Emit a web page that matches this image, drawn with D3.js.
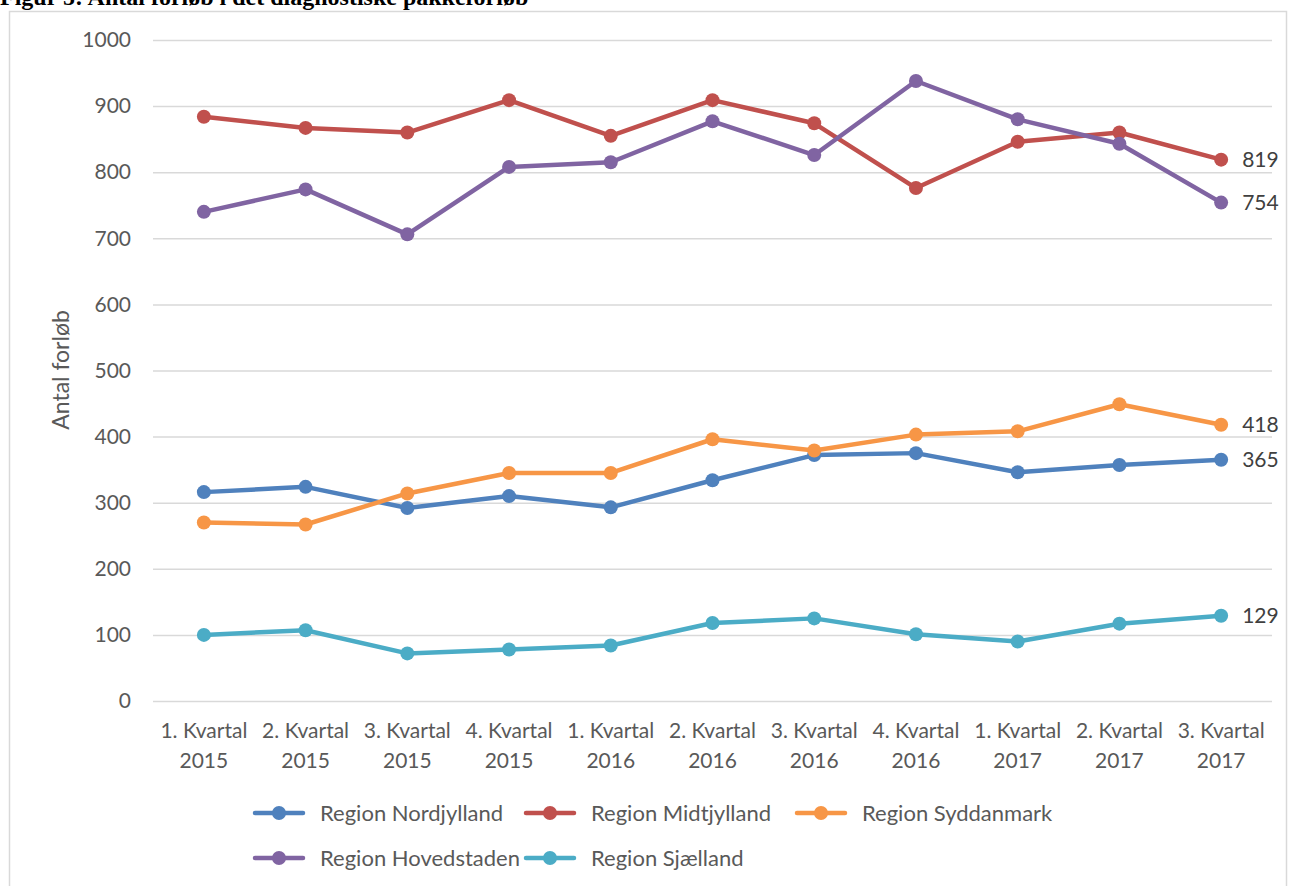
<!DOCTYPE html>
<html>
  <head>
    <meta charset="utf-8">
    <script src="https://d3js.org/d3.v7.min.js"></script>
    <title>Antal forløb i det diagnostiske pakkeforløb</title>
    <style>
      body { margin: 0px; background: #fff; }
      .domain { display: none; }
      .tick line { stroke: #d9d9d9; stroke-width: 1.5; }
      .tick text { fill: #595959; font-size: 21px; font-family: Lato, sans-serif; }
      .axis-label { fill: #595959; font-size: 23px; font-family: Lato, sans-serif; }
      .legend text { fill: #595959; font-size: 22px; font-family: Lato, sans-serif; }
      .end-label { fill: #404040; font-size: 21px; font-family: Lato, sans-serif; }
    </style>
  </head>
  <body>
    <svg width="1289" height="886"></svg>
    <script>
      const quarters = ['1. Kvartal', '2. Kvartal', '3. Kvartal', '4. Kvartal', '1. Kvartal', '2. Kvartal',
                        '3. Kvartal', '4. Kvartal', '1. Kvartal', '2. Kvartal', '3. Kvartal'];
      const years = ['2015', '2015', '2015', '2015', '2016', '2016', '2016', '2016', '2017', '2017', '2017'];
      const yTickValues = [0, 100, 200, 300, 400, 500, 600, 700, 800, 900, 1000];

      const nordjylland = [316, 324, 292, 310, 293, 334, 372, 375, 346, 357, 365];
      const midtjylland = [884, 867, 860, 909, 855, 909, 874, 776, 846, 860, 819];
      const syddanmark  = [270, 267, 314, 345, 345, 396, 379, 403, 408, 449, 418];
      const hovedstaden = [740, 774, 706, 808, 815, 877, 826, 938, 880, 843, 754];
      const sjaelland   = [100, 107, 72, 78, 84, 118, 125, 101, 90, 117, 129];

      const seriesNames = ['Region Nordjylland', 'Region Midtjylland', 'Region Syddanmark',
                           'Region Hovedstaden', 'Region Sjælland'];
      const seriesColors = ['#4f81bd', '#c0504d', '#f79646', '#8064a2', '#4bacc6'];
      const seriesValues = [nordjylland, midtjylland, syddanmark, hovedstaden, sjaelland];

      const series = seriesNames.map((name, i) => ({
        name: name,
        color: seriesColors[i],
        values: seriesValues[i]
      }));

      const margin = { left: 153, right: 17, top: 40, bottom: 185 };
      const svg = d3.select('svg');
      const width = +svg.attr('width');
      const height = +svg.attr('height');
      const innerWidth = width - margin.left - margin.right;
      const innerHeight = height - margin.top - margin.bottom;

      // title, cut off at the top of the picture
      svg.append('text')
          .attr('x', 0)
          .attr('y', 5)
          .style('font-family', "'Liberation Serif', serif")
          .style('font-weight', 'bold')
          .style('font-size', '24px')
          .text('Figur 5: Antal forløb i det diagnostiske pakkeforløb');

      // chart border
      svg.append('rect')
          .attr('x', 9.5)
          .attr('y', 11.5)
          .attr('width', 1277)
          .attr('height', 900)
          .attr('fill', 'none')
          .attr('stroke', '#d9d9d9')
          .attr('stroke-width', 1.5);

      const g = svg.append('g')
          .attr('transform', `translate(${margin.left},${margin.top})`);

      const xScale = d3.scaleBand()
          .domain(d3.range(quarters.length))
          .range([0, innerWidth]);
      const yScale = d3.scaleLinear()
          .domain([0, 1000])
          .range([innerHeight, 0]);

      const yAxis = d3.axisLeft(yScale)
          .tickValues(yTickValues)
          .tickFormat(d3.format('d'))
          .tickSize(-innerWidth)
          .tickPadding(22);
      const yAxisG = g.append('g').call(yAxis);

      const xAxis = d3.axisBottom(xScale)
          .tickSize(0)
          .tickFormat('');
      const xAxisG = g.append('g')
          .attr('transform', `translate(0,${innerHeight})`)
          .call(xAxis);
      xAxisG.selectAll('.tick').each(function(d) {
        const t = d3.select(this).append('text')
            .attr('text-anchor', 'middle')
            .attr('fill', '#595959')
            .style('font-size', '21px')
            .style('font-family', 'Lato, sans-serif');
        t.append('tspan').attr('x', 0).attr('y', 37).text(quarters[d]);
        t.append('tspan').attr('x', 0).attr('y', 67).text(years[d]);
      });

      g.append('text')
          .attr('class', 'axis-label')
          .attr('transform', 'rotate(-90)')
          .attr('x', -330)
          .attr('y', -84)
          .attr('text-anchor', 'middle')
          .text('Antal forløb');

      const xPos = i => xScale(i) + xScale.bandwidth() / 2;
      const line = d3.line()
          .x((d, i) => xPos(i))
          .y(d => yScale(d));

      const seriesG = g.selectAll('.series').data(series)
        .enter().append('g')
          .attr('class', 'series');

      seriesG.append('path')
          .attr('d', d => line(d.values))
          .attr('fill', 'none')
          .attr('stroke', d => d.color)
          .attr('stroke-width', 4.5)
          .attr('stroke-linejoin', 'round');

      seriesG.selectAll('circle')
          .data(d => d.values.map(v => ({ v: v, color: d.color })))
          .enter().append('circle')
            .attr('cx', (d, i) => xPos(i))
            .attr('cy', d => yScale(d.v))
            .attr('r', 7)
            .attr('fill', d => d.color);

      const last = quarters.length - 1;
      seriesG.append('text')
          .attr('class', 'end-label')
          .attr('x', xPos(last) + 21)
          .attr('y', d => yScale(d.values[last]))
          .attr('dy', '0.35em')
          .text(d => d.values[last]);

      // legend
      const legend = svg.append('g').attr('class', 'legend');
      const legendItems = legend.selectAll('g').data(series)
        .enter().append('g')
          .attr('transform', (d, i) => `translate(${255 + (i % 3) * 271},${i < 3 ? 813 : 858})`);
      legendItems.append('line')
          .attr('x1', 0).attr('x2', 48)
          .attr('stroke', d => d.color)
          .attr('stroke-width', 4.5)
          .attr('stroke-linecap', 'round');
      legendItems.append('circle')
          .attr('cx', 24)
          .attr('r', 7)
          .attr('fill', d => d.color);
      legendItems.append('text')
          .attr('x', 65)
          .attr('dy', '0.35em')
          .text(d => d.name);
    </script>
  </body>
</html>
